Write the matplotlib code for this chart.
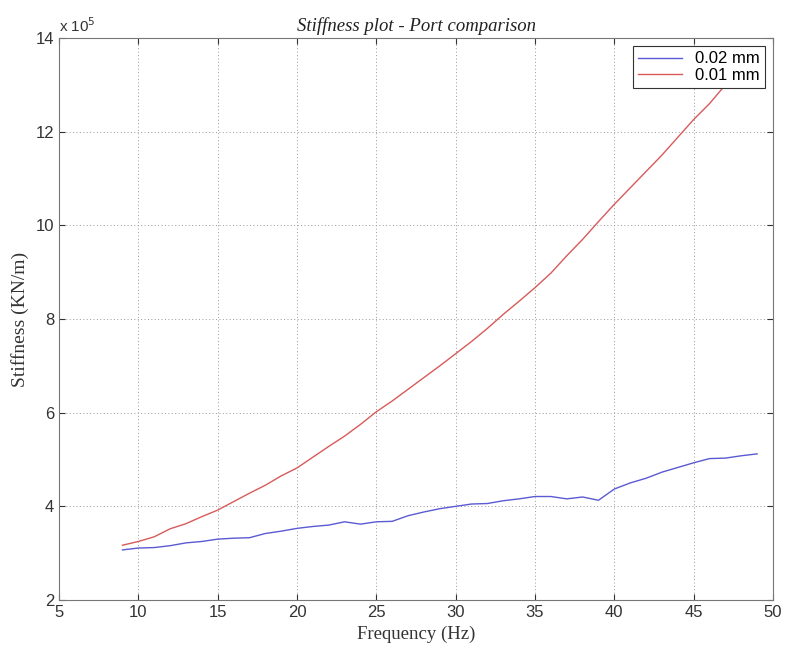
import matplotlib
matplotlib.use('Agg')
import matplotlib.pyplot as plt

# frequency (Hz) and stiffness (x 10^5 KN/m)
freq = [9, 10, 11, 12, 13, 14, 15, 16, 17, 18, 19, 20, 21, 22, 23, 24, 25, 26, 27, 28, 29,
        30, 31, 32, 33, 34, 35, 36, 37, 38, 39, 40, 41, 42, 43, 44, 45, 46, 47, 48, 49]
stiff_002 = [3.07, 3.11, 3.12, 3.16, 3.22, 3.25, 3.30, 3.32, 3.33, 3.42, 3.47, 3.53, 3.57, 3.60,
             3.67, 3.62, 3.67, 3.68, 3.80, 3.88, 3.95, 4.00, 4.05, 4.06, 4.12, 4.16, 4.21, 4.21,
             4.16, 4.20, 4.13, 4.37, 4.50, 4.60, 4.73, 4.83, 4.93, 5.02, 5.03, 5.08, 5.12]
stiff_001 = [3.17, 3.25, 3.35, 3.52, 3.63, 3.78, 3.92, 4.10, 4.28, 4.45, 4.65, 4.82, 5.05, 5.28,
             5.50, 5.75, 6.02, 6.25, 6.50, 6.75, 7.00, 7.26, 7.52, 7.80, 8.10, 8.38, 8.67, 8.98,
             9.35, 9.70, 10.08, 10.45, 10.80, 11.15, 11.50, 11.88, 12.26, 12.60, 13.00, 13.35, 13.70]

plt.rcParams['font.family'] = 'Liberation Sans'

fig = plt.figure(figsize=(7.85, 6.5), dpi=100)
ax = fig.add_axes([0.0752, 0.0769, 0.9095, 0.8646])

ax.plot(freq, stiff_002, color='#5a5ad2', lw=1.0, label='0.02 mm')
ax.plot(freq, stiff_001, color='#d85a5a', lw=1.0, label='0.01 mm')

ax.set_xlim(5, 50)
ax.set_ylim(2, 14)
ax.set_xticks(range(5, 51, 5))
ax.set_yticks(range(2, 15, 2))

# MATLAB style exponent label above the y axis
ax.text(0.0, 1.005, r'x 10$^5$', transform=ax.transAxes, fontsize=11,
        color='#333333', ha='left', va='bottom')

ax.grid(True, linestyle=(0, (1, 2.5)), color='#999999', lw=0.7)
ax.tick_params(direction='in', top=True, right=True, labelsize=12, colors='#333333', length=4)
for s in ax.spines.values():
    s.set_color('#777777')

ax.set_title('Stiffness plot - Port comparison', fontsize=13.5, style='italic',
             family='Liberation Serif', color='#222222', pad=5)
ax.set_xlabel('Frequency (Hz)', fontsize=13.5, family='Liberation Serif', color='#333333', labelpad=4)
ax.set_ylabel('Stiffness (KN/m)', fontsize=14, family='Liberation Serif', color='#333333', labelpad=5)

leg = ax.legend(loc='upper right', fontsize=12, fancybox=False, framealpha=1,
                edgecolor='#333333', handlelength=2.6, borderaxespad=0.5, labelspacing=0.1,
                borderpad=0.3)
leg.get_frame().set_linewidth(0.8)

plt.savefig('out.png', dpi=100)
